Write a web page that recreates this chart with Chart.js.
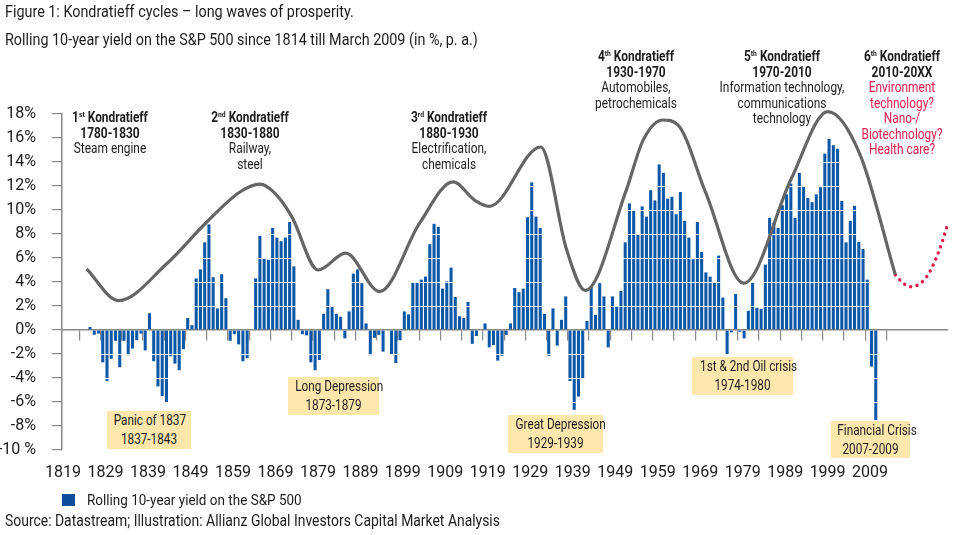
<!DOCTYPE html>
<html><head><meta charset="utf-8">
<script src="https://cdn.jsdelivr.net/npm/chart.js@4.4.1/dist/chart.umd.min.js"></script>
<style>
html,body{margin:0;padding:0;background:#fff;}
#wrap{position:relative;width:958px;height:535px;overflow:hidden;font-family:Roboto,"Noto Sans",sans-serif;color:#1c1c1c;}
#c{position:absolute;left:0;top:0;}
.t{position:absolute;white-space:nowrap;font-size:16.5px;line-height:20px;transform-origin:0 50%;transform:scaleX(0.87);}
.ann{position:absolute;text-align:center;white-space:nowrap;font-size:14px;line-height:15.5px;transform:translateX(-50%) scaleX(0.85);}
.ann b{font-weight:bold;}
.box{position:absolute;background:#fde7ad;text-align:center;font-size:14px;line-height:19px;display:flex;flex-direction:column;justify-content:center;white-space:nowrap;}
.box div{transform:scaleX(0.84);}
.red{color:#e2184a;}
sup{font-size:8px;line-height:0;vertical-align:5px;}
.leg{position:absolute;left:62px;top:494px;width:13px;height:12px;background:#0b4f9c;}
</style></head>
<body>
<div id="wrap">
<canvas id="c" width="958" height="535"></canvas>
<div class="t" style="left:5px;top:2px;">Figure 1: Kondratieff cycles – long waves of prosperity.</div>
<div class="t" style="left:5px;top:30px;">Rolling 10-year yield on the S&amp;P 500 since 1814 till March 2009 (in %, p. a.)</div>

<div class="ann" style="left:110px;top:110px;"><b>1<sup>st</sup> Kondratieff<br>1780-1830</b><br>Steam engine</div>
<div class="ann" style="left:250px;top:110px;"><b>2<sup>nd</sup> Kondratieff<br>1830-1880</b><br>Railway,<br>steel</div>
<div class="ann" style="left:449px;top:110px;"><b>3<sup>rd</sup> Kondratieff<br>1880-1930</b><br>Electrification,<br>chemicals</div>
<div class="ann" style="left:636px;top:49px;"><b>4<sup>th</sup> Kondratieff<br>1930-1970</b><br>Automobiles,<br>petrochemicals</div>
<div class="ann" style="left:782px;top:49px;"><b>5<sup>th</sup> Kondratieff<br>1970-2010</b><br>Information technology,<br>communications<br>technology</div>
<div class="ann" style="left:902px;top:49px;"><b>6<sup>th</sup> Kondratieff<br>2010-20XX</b><br><span class="red">Environment<br>technology?<br>Nano-/<br>Biotechnology?<br>Health care?</span></div>

<div class="box" style="left:107px;top:411px;width:84px;height:38px;"><div>Panic of 1837</div><div>1837-1843</div></div>
<div class="box" style="left:288px;top:377px;width:91px;height:38px;"><div>Long Depression</div><div>1873-1879</div></div>
<div class="box" style="left:508px;top:415px;width:95px;height:38px;"><div>Great Depression</div><div>1929-1939</div></div>
<div class="box" style="left:692px;top:357px;width:101px;height:38px;"><div>1st &amp; 2nd Oil crisis</div><div>1974-1980</div></div>
<div class="box" style="left:831px;top:421px;width:79px;height:37px;"><div>Financial Crisis</div><div>2007-2009</div></div>

<div class="leg"></div>
<div class="t" style="left:87px;top:490px;font-size:15.5px;">Rolling 10-year yield on the S&amp;P 500</div>
<div class="t" style="left:5px;top:511px;font-size:16px;">Source: Datastream; Illustration: Allianz Global Investors Capital Market Analysis</div>
</div>
<script>
// ---- data ----
const firstYear = 1824;
const lastYear = 2009;
const yields = [
 0.25,-0.4,-0.3,-2.7,-4.25,-2.4,-0.9,-3.1,-0.9,-2.1,          // 1824-1833
 -1.55,-0.85,-0.3,-1.7,1.4,-2.6,-4.7,-5.5,-6.0,-2.2,          // 1834-1843
 -2.8,-3.35,-1.6,1.0,0.4,4.3,5.05,7.3,8.8,4.4,                // 1844-1853
 1.8,4.65,2.65,-0.9,-0.35,-1.2,-2.6,-2.35,0,4.3,              // 1854-1863
 7.85,6.0,5.85,8.5,7.7,7.4,7.7,9.0,5.3,0.85,                  // 1864-1873
 -0.35,-0.45,-2.7,-3.35,-2.5,1.35,3.4,2.0,1.35,1.1,           // 1874-1883
 -0.7,1.55,4.7,5.05,3.9,0.55,-2.1,-0.65,-0.4,-1.8,            // 1884-1893
 0,-2.0,-2.75,-0.85,1.55,1.3,3.95,3.95,4.2,4.45,              // 1894-1903
 7.15,8.85,8.6,3.45,4.05,5.2,2.75,1.15,1.0,2.35,              // 1904-1913
 -1.15,-0.5,0,0.55,-1.45,-1.25,-2.55,-2.15,-0.4,0.55,         // 1914-1923
 3.5,3.15,3.45,9.4,12.3,9.45,8.5,1.35,-2.15,1.8,              // 1924-1933
 -1.3,0.85,2.8,-4.25,-6.65,-5.55,-4.0,0.75,3.6,1.25,          // 1934-1943
 3.9,2.8,-1.45,2.8,2.0,3.25,7.3,10.55,10.0,8.0,               // 1944-1953
 10.3,9.45,11.65,10.8,13.8,13.1,10.95,11.1,9.65,11.5,         // 1954-1963
 9.1,7.7,5.9,9.0,6.5,4.8,4.45,3.95,6.2,2.7,                   // 1964-1973
 -2.0,-0.2,3.0,-0.15,-0.7,1.6,3.95,1.85,1.75,5.45,            // 1974-1983
 9.35,8.95,8.5,10.4,11.3,12.2,9.35,13.1,12.0,11.0,            // 1984-1993
 10.65,11.3,11.9,14.7,16.0,15.4,15.1,10.75,7.3,9.1,           // 1994-2003
 10.35,7.35,6.75,4.2,-3.05,-7.5                               // 2004-2009
];
const years = [];
for (let y = firstYear; y <= lastYear; y++) years.push(y);

// Kondratieff wave (illustrative curve)
const waveYears  = [1823.2,1830.7,1842,1851.5,1859.3,1864.0,1867.5,1871.5,1877.7,1884.2,1892.2,1901.6,1909.5,1914.6,1918.0,1930.1,1936.2,1940.6,1950.3,1954.2,1958.9,1962.4,1969.0,1977.9,1989.1,1997.7,2005.2,2013.6];
const waveValues = [5.1,2.45,5.5,9.0,11.5,12.15,11.4,9.45,5.0,6.4,3.2,8.9,12.35,10.8,10.3,15.25,6.7,3.3,11.7,15.8,17.5,17.1,11.4,3.9,12.6,18.2,14.7,4.6];
// outlook (6th Kondratieff, dotted red)
const outlookYears  = [2013.6,2015.3,2017.2,2021.0,2024.0,2026.0];
const outlookValues = [4.6,3.95,3.6,4.45,6.7,8.9];

// axis ticks
const yTicks = [-10,-8,-6,-4,-2,0,2,4,6,8,10,12,14,16,18];
const labelYears = [1819,1829,1839,1849,1859,1869,1879,1889,1899,1909,1919,1929,1939,1949,1959,1969,1979,1989,1999,2009];
const tickYears = [1824,1829,1834,1839,1844,1849,1854,1859,1864,1869,1874,1879,1884,1889,1894,1899,1904,1909,1914,1919,1924,1929,1934,1939,1944,1949,1954,1959,1964,1969,1974,1979,1984,1989,1994,1999,2004,2009];
const xMin = 1817.41, xMax = 2026.0;

Chart.defaults.font.family = 'Roboto, "Noto Sans", sans-serif';
Chart.defaults.color = '#1c1c1c';

const barGrid = {
  id: 'barGrid',
  afterDatasetDraw(chart, args) {
    if (chart.data.datasets[args.index].type !== 'bar') return;
    const {ctx, chartArea, scales} = chart;
    const y = scales.y;
    ctx.save();
    ctx.strokeStyle = 'rgba(255,255,255,0.9)';
    ctx.lineWidth = 1;
    y.ticks.forEach(t => {
      if (t.value === 0) return;
      const py = Math.round(y.getPixelForValue(t.value)) + 0.5;
      ctx.beginPath();
      ctx.moveTo(chartArea.left + 1, py);
      ctx.lineTo(chartArea.right, py);
      ctx.stroke();
    });
    ctx.restore();
  }
};

new Chart(document.getElementById('c'), {
  type: 'bar',
  data: {
    datasets: [
      { type: 'line', label: 'Kondratieff wave',
        data: waveYears.map((x, i) => ({x, y: waveValues[i]})),
        borderColor: '#656565', borderWidth: 3.2, pointRadius: 0,
        cubicInterpolationMode: 'monotone', fill: false, clip: false, order: 0 },
      { type: 'line', label: 'Outlook',
        data: outlookYears.map((x, i) => ({x, y: outlookValues[i]})),
        borderColor: '#e2184a', borderWidth: 3.4, borderDash: [0.1, 6.5], borderCapStyle: 'round',
        pointRadius: 0, cubicInterpolationMode: 'monotone', fill: false, clip: false, order: 0 },
      { type: 'bar', label: 'Rolling 10-year yield on the S&P 500',
        data: years.map((x, i) => ({x, y: yields[i]})),
        backgroundColor: '#0d58a6', barPercentage: 0.72, categoryPercentage: 1, order: 1 }
    ]
  },
  options: {
    responsive: false, animation: false, events: [],
    layout: { padding: { left: 0, right: 10, top: 114, bottom: 45 } },
    plugins: { legend: { display: false }, tooltip: { enabled: false } },
    scales: {
      x: { type: 'linear', position: { y: 0 }, min: xMin, max: xMax, offset: false,
        grid: { display: true, drawOnChartArea: false, drawTicks: true, tickLength: 10, color: '#8a8a8a', lineWidth: 1.2 },
        border: { display: true, color: '#8a8a8a', width: 1.5 },
        ticks: { display: false },
        afterBuildTicks: s => { s.ticks = tickYears.map(v => ({value: v})); } },
      xLabels: { type: 'linear', position: 'bottom', min: xMin, max: xMax, offset: false,
        grid: { display: false, drawTicks: false }, border: { display: false },
        ticks: { autoSkip: false, maxRotation: 0, padding: 13, labelOffset: -5.7,
          font: { size: 16 }, color: '#1c1c1c', callback: v => String(v) },
        afterBuildTicks: s => { s.ticks = labelYears.map(v => ({value: v})); },
        afterFit: s => { s.height = 40; } },
      y: { type: 'linear', position: 'left', min: -10, max: 18,
        grid: { drawOnChartArea: false, drawTicks: true, tickLength: 10, color: '#8a8a8a', lineWidth: 1.2 },
        border: { display: true, color: '#8a8a8a', width: 1.5 },
        ticks: { padding: 16, font: { size: 16 }, color: '#1c1c1c',
          callback: v => v === -10 ? '-10 %' : v + '%' },
        afterBuildTicks: s => { s.ticks = yTicks.map(v => ({value: v})); },
        afterFit: s => { s.width = 62; } }
    }
  },
  plugins: [barGrid]
});
</script>
</body></html>
